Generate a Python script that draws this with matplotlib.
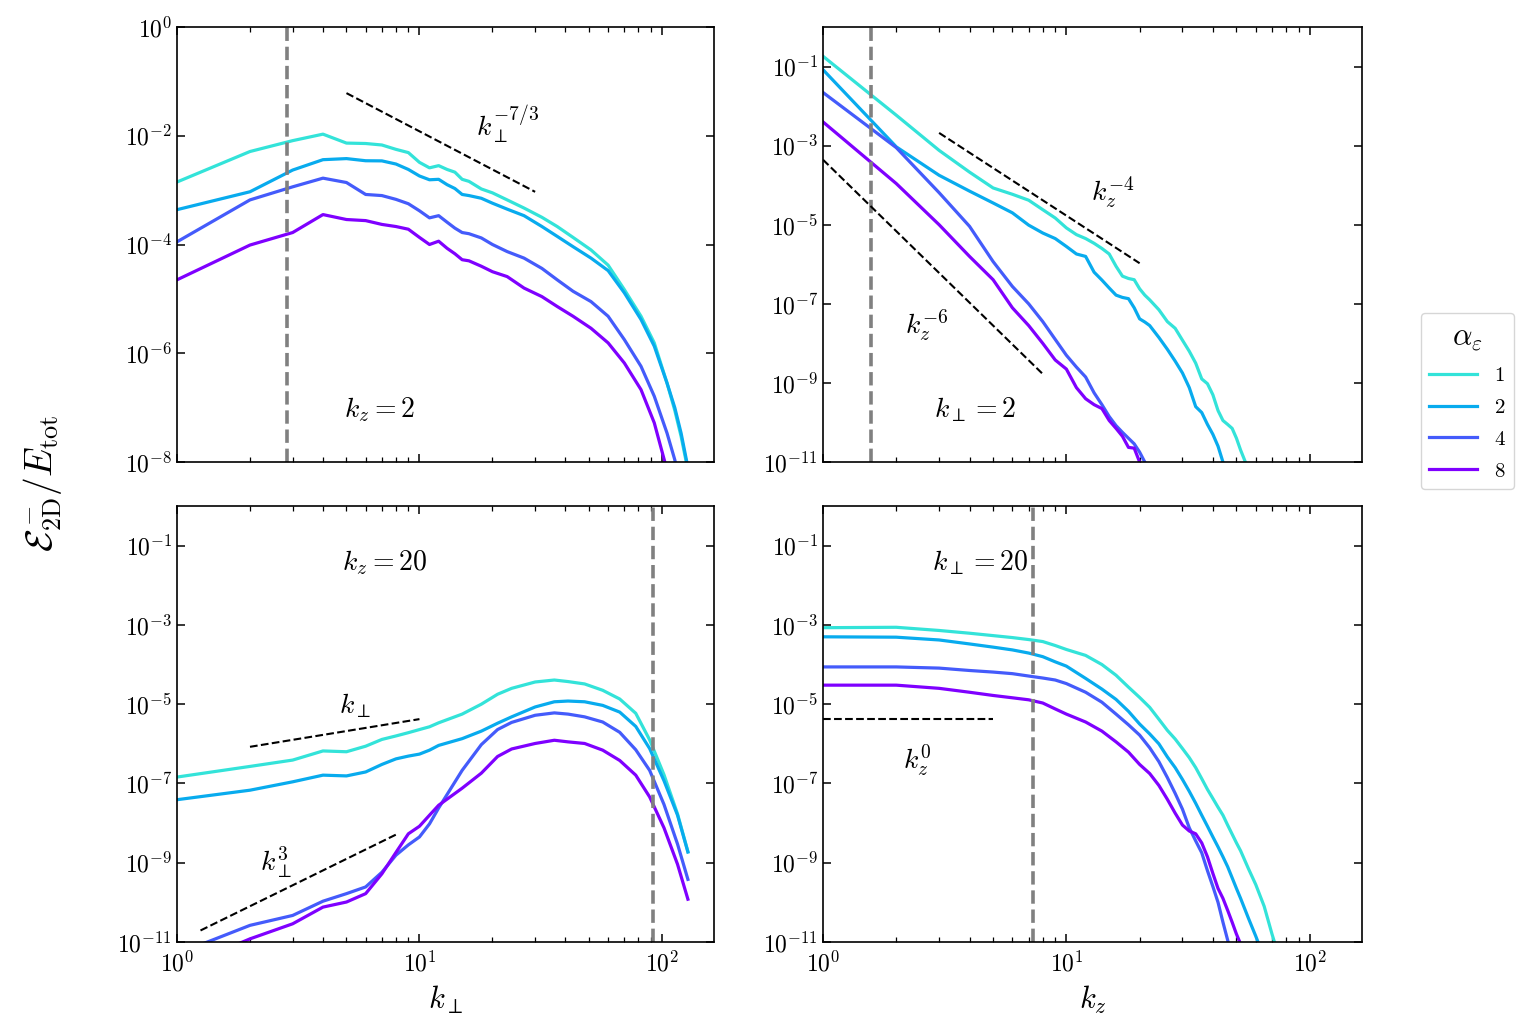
import numpy as np
import matplotlib
matplotlib.use("Agg")
import matplotlib.pyplot as plt
from matplotlib.ticker import FuncFormatter, LogLocator, NullLocator, NullFormatter, FixedLocator
from matplotlib.lines import Line2D

plt.rcParams['mathtext.fontset'] = 'cm'
plt.rcParams['font.family'] = ['DejaVu Serif']

# ---------------- data ----------------
alphas = ['1', '2', '4', '8']
colors = ['#33e3d9', '#08abee', '#445bfb', '#7f00ff']

# Top-left: k_z = 2, vs k_perp
k_tl = [1, 2, 3, 4, 5, 6, 7, 8, 9, 10, 11, 12, 13, 14, 15, 16, 18, 20, 23, 27, 32, 37,
        43, 51, 60, 70, 82, 93, 105, 113, 120, 128]
tl_a1 = [1.41e-3, 5.13e-3, 8.13e-3, 1.07e-2, 7.33e-3, 7.2e-3, 6.76e-3, 5.62e-3, 4.90e-3,
         3.24e-3, 2.57e-3, 2.82e-3, 2.40e-3, 2.14e-3, 1.58e-3, 1.45e-3, 1.05e-3, 8.91e-4,
         6.61e-4, 4.68e-4, 3.16e-4, 2.14e-4, 1.35e-4, 7.94e-5, 4.17e-5, 1.48e-5, 4.79e-6,
         1.55e-6, 2.82e-7, 8.91e-8, 2.95e-8, 7.08e-9]
tl_a2 = [4.37e-4, 9.33e-4, 2.34e-3, 3.63e-3, 3.80e-3, 3.47e-3, 3.45e-3, 3.02e-3, 2.40e-3,
         1.82e-3, 1.55e-3, 1.58e-3, 1.26e-3, 1.07e-3, 8.32e-4, 7.94e-4, 7.08e-4, 5.75e-4,
         4.47e-4, 3.39e-4, 2.14e-4, 1.41e-4, 9.12e-5, 5.62e-5, 3.31e-5, 1.29e-5, 4.17e-6,
         1.35e-6, 2.82e-7, 1.00e-7, 3.39e-8, 7.94e-9]
tl_a4 = [1.12e-4, 6.61e-4, 1.15e-3, 1.66e-3, 1.38e-3, 8.32e-4, 7.94e-4, 6.76e-4, 5.62e-4,
         4.17e-4, 3.09e-4, 3.39e-4, 2.57e-4, 2.00e-4, 1.66e-4, 1.58e-4, 1.32e-4, 1.00e-4,
         7.41e-5, 5.62e-5, 3.63e-5, 2.24e-5, 1.38e-5, 8.91e-6, 4.79e-6, 1.78e-6, 5.75e-7,
         1.62e-7, 3.39e-8, 1.10e-8, 3.16e-9, 6.31e-10]
tl_a8 = [2.24e-5, 9.77e-5, 1.66e-4, 3.55e-4, 2.88e-4, 2.75e-4, 2.34e-4, 2.14e-4, 1.91e-4,
         1.35e-4, 1.00e-4, 1.15e-4, 8.51e-5, 6.76e-5, 5.25e-5, 5.01e-5, 3.98e-5, 3.16e-5,
         2.57e-5, 1.58e-5, 1.10e-5, 7.24e-6, 4.79e-6, 2.88e-6, 1.55e-6, 6.61e-7, 2.14e-7,
         5.25e-8, 7.08e-9, 1.58e-9, 3.98e-10, 1.0e-10]

# Top-right: k_perp = 2, vs k_z
k_tr = [1, 2, 3, 4, 5, 6, 7, 8, 9, 10, 11, 12, 13, 14, 15, 16, 17, 18, 19, 20, 21, 22,
        24, 26, 28, 30, 32, 34, 36, 38, 40, 42, 44, 46, 48, 50, 52, 54, 56]
tr_a1 = [1.82e-1, 5.89e-3, 7.59e-4, 2.14e-4, 8.51e-5, 5.89e-5, 4.17e-5, 2.40e-5, 1.48e-5,
         8.32e-6, 5.62e-6, 4.47e-6, 3.39e-6, 2.51e-6, 1.82e-6, 8.91e-7, 5.01e-7, 4.37e-7,
         4.07e-7, 2.40e-7, 1.66e-7, 1.26e-7, 7.08e-8, 3.55e-8, 2.40e-8, 1.20e-8, 6.31e-9,
         3.16e-9, 1.26e-9, 9.55e-10, 5.01e-10, 2.00e-10, 1.12e-10, 8.91e-11, 7.08e-11,
         3.98e-11, 2.00e-11, 1.12e-11, 6.31e-12]
tr_a2 = [8.32e-2, 9.33e-4, 1.78e-4, 7.08e-5, 3.55e-5, 2.00e-5, 9.77e-6, 6.17e-6, 4.47e-6,
         2.82e-6, 1.82e-6, 1.58e-6, 6.31e-7, 3.98e-7, 2.51e-7, 1.66e-7, 1.45e-7, 1.35e-7,
         7.94e-8, 4.17e-8, 3.47e-8, 2.82e-8, 1.41e-8, 7.08e-9, 3.55e-9, 1.78e-9, 7.59e-10,
         2.51e-10, 1.78e-10, 8.91e-11, 5.01e-11, 2.51e-11, 1.0e-11, 5.01e-12]
tr_a4 = [2.21e-2, 8.91e-4, 6.46e-5, 9.12e-6, 1.17e-6, 2.75e-7, 1.0e-7, 3.55e-8, 1.26e-8,
         5.01e-9, 2.51e-9, 1.41e-9, 5.62e-10, 2.82e-10, 1.41e-10, 8.32e-11, 5.62e-11,
         3.98e-11, 2.88e-11, 1.78e-11, 1.0e-11, 6.31e-12]
tr_a8 = [3.98e-3, 1.10e-4, 1.0e-5, 1.58e-6, 4.07e-7, 7.94e-8, 2.82e-8, 1.0e-8, 3.80e-9,
         2.24e-9, 7.59e-10, 3.98e-10, 2.82e-10, 2.24e-10, 1.12e-10, 7.08e-11, 4.47e-11,
         2.34e-11, 2.24e-11, 1.0e-11, 6.31e-12]

# Bottom-left: k_z = 20, vs k_perp
k_bl = [1, 2, 3, 4, 5, 6, 7, 8, 9, 10, 11, 12, 15, 18, 21, 24, 30, 36, 41, 48, 57, 67,
        78, 89, 102, 116, 128]
bl_a1 = [1.45e-7, 2.69e-7, 3.89e-7, 6.61e-7, 6.31e-7, 8.71e-7, 1.29e-6, 1.58e-6, 1.91e-6,
         2.29e-6, 2.69e-6, 3.39e-6, 5.62e-6, 1.0e-5, 1.78e-5, 2.51e-5, 3.63e-5, 4.07e-5,
         3.72e-5, 3.24e-5, 2.24e-5, 1.35e-5, 5.89e-6, 1.26e-6, 1.66e-7, 1.70e-8, 1.91e-9]
bl_a2 = [3.89e-8, 6.76e-8, 1.10e-7, 1.62e-7, 1.55e-7, 1.95e-7, 3.02e-7, 4.17e-7, 4.90e-7,
         5.50e-7, 6.92e-7, 9.12e-7, 1.35e-6, 2.09e-6, 3.31e-6, 4.79e-6, 8.51e-6, 1.15e-5,
         1.20e-5, 1.15e-5, 9.33e-6, 6.31e-6, 2.75e-6, 7.59e-7, 1.17e-7, 1.58e-8, 1.86e-9]
bl_a4 = [5.01e-12, 2.63e-11, 4.68e-11, 1.07e-10, 1.66e-10, 2.45e-10, 5.75e-10, 1.55e-9,
         2.82e-9, 4.47e-9, 9.55e-9, 2.40e-8, 2.14e-7, 9.55e-7, 2.29e-6, 3.47e-6, 5.25e-6,
         6.03e-6, 5.62e-6, 4.79e-6, 3.55e-6, 1.95e-6, 7.08e-7, 2.14e-7, 2.95e-8, 2.95e-9,
         3.80e-10]
bl_a8 = [2.0e-12, 1.20e-11, 2.88e-11, 7.59e-11, 1.02e-10, 1.66e-10, 5.25e-10, 1.82e-9,
         5.37e-9, 8.32e-9, 1.58e-8, 2.82e-8, 7.59e-8, 1.82e-7, 4.79e-7, 7.41e-7, 1.02e-6,
         1.23e-6, 1.12e-6, 1.02e-6, 6.92e-7, 3.80e-7, 1.62e-7, 4.57e-8, 7.59e-9, 9.12e-10,
         1.20e-10]

# Bottom-right: k_perp = 20, vs k_z
k_br = [1, 2, 3, 4, 5, 6, 7, 8, 9, 10, 12, 14, 16, 18, 20, 22, 24, 26, 28, 30, 32, 34,
        36, 38, 40, 42, 44, 46, 48, 50, 52, 56, 60, 65, 70, 75]
br_a1 = [8.51e-4, 8.71e-4, 7.24e-4, 6.17e-4, 5.37e-4, 4.79e-4, 4.27e-4, 3.80e-4, 3.02e-4,
         2.40e-4, 1.70e-4, 1.0e-4, 5.37e-5, 2.69e-5, 1.48e-5, 8.32e-6, 4.17e-6, 2.19e-6,
         1.32e-6, 7.59e-7, 4.47e-7, 2.51e-7, 1.32e-7, 7.08e-8, 4.17e-8, 2.51e-8, 1.58e-8,
         8.91e-9, 5.25e-9, 3.16e-9, 2.0e-9, 7.08e-10, 2.82e-10, 7.94e-11, 1.58e-11, 3.98e-12]
br_a2 = [5.01e-4, 4.90e-4, 4.17e-4, 3.31e-4, 2.75e-4, 2.34e-4, 1.95e-4, 1.58e-4, 1.17e-4,
         9.12e-5, 4.47e-5, 2.40e-5, 1.32e-5, 6.61e-6, 3.16e-6, 1.78e-6, 1.0e-6, 4.68e-7,
         2.51e-7, 1.26e-7, 6.31e-8, 3.16e-8, 1.58e-8, 8.32e-9, 4.47e-9, 2.51e-9, 1.41e-9,
         7.94e-10, 4.17e-10, 2.24e-10, 1.26e-10, 3.98e-11, 1.41e-11, 3.98e-12]
br_a4 = [8.71e-5, 8.71e-5, 8.13e-5, 7.08e-5, 6.46e-5, 5.89e-5, 5.13e-5, 4.57e-5, 4.07e-5,
         3.31e-5, 2.0e-5, 1.12e-5, 5.62e-6, 3.02e-6, 1.66e-6, 7.94e-7, 3.55e-7, 1.41e-7,
         5.62e-8, 2.24e-8, 7.59e-9, 3.55e-9, 1.78e-9, 6.31e-10, 2.51e-10, 1.0e-10, 3.16e-11,
         1.12e-11, 3.98e-12]
br_a8 = [3.02e-5, 3.02e-5, 2.51e-5, 2.0e-5, 1.66e-5, 1.45e-5, 1.29e-5, 1.07e-5, 7.59e-6,
         5.62e-6, 3.55e-6, 2.09e-6, 1.12e-6, 6.17e-7, 3.02e-7, 1.78e-7, 8.91e-8, 3.98e-8,
         1.78e-8, 8.91e-9, 6.31e-9, 5.37e-9, 3.16e-9, 1.41e-9, 5.37e-10, 2.24e-10, 1.26e-10,
         6.31e-11, 3.16e-11, 1.58e-11, 8.91e-12]

# vertical reference lines (x positions)
vline_x = [2.85, 1.58, 91.5, 7.3]
# power-law guides: (k_start, k_end, amplitude, exponent)
guides = [
    [(5.0, 30.0, 2.6, -7.0 / 3.0)],
    [(3.0, 20.0, 0.17, -4.0), (1.0, 8.0, 4.4e-4, -6.0)],
    [(2.0, 10.0, 4.2e-7, 1.0), (1.25, 8.0, 1.0e-11, 3.0)],
    [(1.0, 5.0, 4.3e-6, 0.0)],
]
panel_labels = [r'$k_z = 2$', r'$k_\perp = 2$', r'$k_z = 20$', r'$k_\perp = 20$']
panel_label_pos = [(0.378, 0.12), (0.282, 0.12), (0.387, 0.869), (0.291, 0.869)]
guide_labels = [
    [(r'$k_\perp^{-7/3}$', 0.615, 0.775)],
    [(r'$k_z^{-4}$', 0.538, 0.621), (r'$k_z^{-6}$', 0.193, 0.315)],
    [(r'$k_\perp$', 0.331, 0.541), (r'$k_\perp^3$', 0.184, 0.183)],
    [(r'$k_z^0$', 0.176, 0.417)],
]

panels = [
    (k_tl, [tl_a1, tl_a2, tl_a4, tl_a8]),
    (k_tr, [tr_a1, tr_a2, tr_a4, tr_a8]),
    (k_bl, [bl_a1, bl_a2, bl_a4, bl_a8]),
    (k_br, [br_a1, br_a2, br_a4, br_a8]),
]

# ---------------- figure ----------------
W, H = 1535, 1033
fig = plt.figure(figsize=(W / 100, H / 100), dpi=100)

def rect(x0, x1, y0, y1):
    return [x0 / W, 1 - y1 / H, (x1 - x0) / W, (y1 - y0) / H]

rects = [rect(177, 714, 27, 462), rect(823, 1362, 27, 462),
         rect(177, 714, 506, 942), rect(823, 1362, 506, 942)]
ylims = [(1e-8, 1e0), (1e-11, 1e0), (1e-11, 1e0), (1e-11, 1e0)]
yticks = [[1e0, 1e-2, 1e-4, 1e-6, 1e-8],
          [1e-1, 1e-3, 1e-5, 1e-7, 1e-9, 1e-11],
          [1e-1, 1e-3, 1e-5, 1e-7, 1e-9, 1e-11],
          [1e-1, 1e-3, 1e-5, 1e-7, 1e-9, 1e-11]]

fmt = FuncFormatter(lambda v, p: r'$10^{%d}$' % int(round(np.log10(v))))
axes = []
for i, (kk, series) in enumerate(panels):
    ax = fig.add_axes(rects[i])
    axes.append(ax)
    ax.set_xscale('log')
    ax.set_yscale('log')
    for s, c in zip(series, colors):
        ax.plot(kk[:len(s)], s, color=c, lw=2.3, solid_joinstyle='round')
    ax.axvline(vline_x[i], color='gray', ls='--', lw=2.6)
    for (k0, k1, amp, ex) in guides[i]:
        kg = np.array([k0, k1])
        ax.plot(kg, amp * kg ** ex, color='black', ls='--', lw=1.5)
    ax.text(*panel_label_pos[i], panel_labels[i], transform=ax.transAxes,
            ha='center', va='center', fontsize=20)
    for (t, fx, fy) in guide_labels[i]:
        ax.text(fx, fy, t, transform=ax.transAxes, ha='center', va='center', fontsize=20)
    ax.set_xlim(1, 164)
    ax.set_ylim(*ylims[i])
    ax.yaxis.set_major_locator(FixedLocator(yticks[i]))
    ax.yaxis.set_minor_locator(NullLocator())
    ax.yaxis.set_major_formatter(fmt)
    ax.xaxis.set_major_locator(FixedLocator([1, 10, 100]))
    ax.xaxis.set_minor_locator(LogLocator(base=10, subs=np.arange(2, 10)))
    ax.xaxis.set_major_formatter(fmt)
    ax.xaxis.set_minor_formatter(NullFormatter())
    ax.tick_params(which='both', direction='in', top=True, right=True, labelsize=17)
    ax.tick_params(which='major', length=6, width=1.1)
    ax.tick_params(which='minor', length=3.5, width=0.9)
    ax.tick_params(axis='x', which='major', pad=7)
    for sp in ax.spines.values():
        sp.set_linewidth(1.2)
    if i < 2:
        ax.tick_params(labelbottom=False)

axes[2].set_xlabel(r'$k_\perp$', fontsize=22, labelpad=5)
axes[3].set_xlabel(r'$k_z$', fontsize=22, labelpad=5)

fig.text(42 / W, 1 - 483 / H, r'$\mathcal{E}^-_{\rm 2D}/E_{\rm tot}$', rotation=90,
         ha='center', va='center', fontsize=27)

handles = [Line2D([0], [0], color=c, lw=2.3) for c in colors]
leg = fig.legend(handles, ['$%s$' % a for a in alphas], title=r'$\alpha_\varepsilon$',
                 loc='center left', bbox_to_anchor=(1421 / W, 1 - 401 / H),
                 borderaxespad=0, fontsize=15, title_fontsize=22, handlelength=2.3,
                 labelspacing=0.62, frameon=True, fancybox=True)
leg.get_frame().set_edgecolor('0.8')

fig.savefig('out.png', dpi=100)
